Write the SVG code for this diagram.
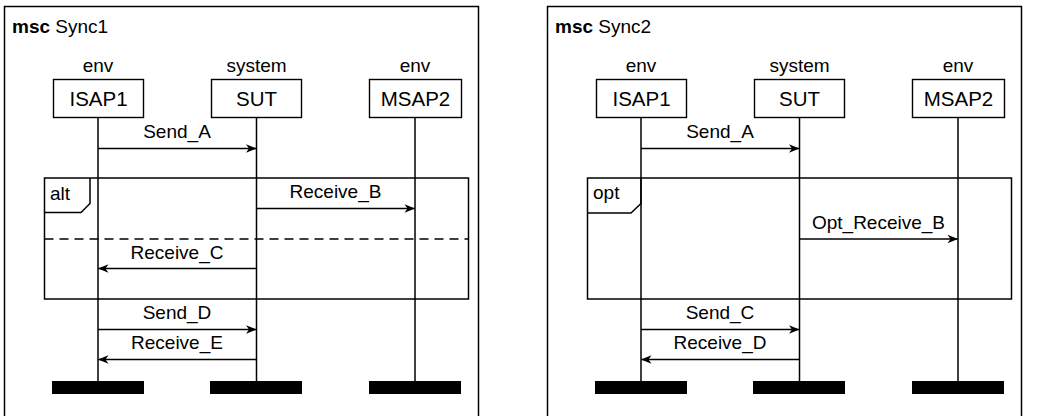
<svg xmlns="http://www.w3.org/2000/svg" width="1039" height="416" viewBox="0 0 1039 416">
  <style>
    text { font-family: "Liberation Sans", Arial, sans-serif; font-size: 19px; fill: #000; }
    .c { text-anchor: middle; }
    .b { font-weight: bold; }
    .n { font-size: 20.5px; }
    .frame { fill: none; stroke: #000; stroke-width: 1.5; }
    .box { fill: #fff; stroke: #000; stroke-width: 1.4; }
    .life { stroke: #000; stroke-width: 1.5; fill: none; }
    .msg { stroke: #000; stroke-width: 1.4; fill: none; marker-end: url(#arrow); }
    .bar { fill: #000; }
    .dash { stroke: #000; stroke-width: 1.4; stroke-dasharray: 9 6; fill: none; }
  </style>
  <defs>
    <marker id="arrow" viewBox="-11 -5 12 10" refX="0" refY="0" markerWidth="12" markerHeight="10" markerUnits="userSpaceOnUse" orient="auto">
      <path d="M0.5,0 L-10,-4.2 L-7,0 L-10,4.2 Z" fill="#000"/>
    </marker>
  </defs>

  <!-- ===== msc Sync1 ===== -->
  <g id="sync1">
    <g id="sync1-frame">
      <rect class="frame" x="4.5" y="6.5" width="474" height="420"/>
      <text x="12" y="33"><tspan class="b">msc</tspan> Sync1</text>
    </g>
    <g id="sync1-isap1">
      <line class="life" x1="98" y1="117" x2="98" y2="382"/>
      <text class="c" x="98" y="72">env</text>
      <rect class="box" x="53.5" y="79.5" width="90" height="38"/>
      <text class="c n" x="98.5" y="106">ISAP1</text>
      <rect class="bar" x="52" y="381" width="92" height="13"/>
    </g>
    <g id="sync1-sut">
      <line class="life" x1="256.5" y1="117" x2="256.5" y2="382"/>
      <text class="c" x="256.5" y="72">system</text>
      <rect class="box" x="211.5" y="79.5" width="90" height="38"/>
      <text class="c n" x="256.5" y="106">SUT</text>
      <rect class="bar" x="210" y="381" width="92" height="13"/>
    </g>
    <g id="sync1-msap2">
      <line class="life" x1="415" y1="117" x2="415" y2="382"/>
      <text class="c" x="415" y="72">env</text>
      <rect class="box" x="369.5" y="79.5" width="92" height="38"/>
      <text class="c n" x="415.5" y="106">MSAP2</text>
      <rect class="bar" x="369" y="381" width="92" height="13"/>
    </g>
    <g id="sync1-alt">
      <rect class="frame" x="44.5" y="178" width="424" height="121"/>
      <path class="frame" d="M44.5,212.5 H81 L90,203.5 V178"/>
      <text x="50" y="200">alt</text>
      <line class="dash" x1="44.5" y1="239" x2="468.5" y2="239"/>
    </g>
    <g id="sync1-connectors">
      <line class="msg" x1="98" y1="148.5" x2="256" y2="148.5"/>
      <text class="c" x="177" y="138">Send_A</text>
      <line class="msg" x1="256.5" y1="208.5" x2="414.5" y2="208.5"/>
      <text class="c" x="335.5" y="198">Receive_B</text>
      <line class="msg" x1="256.5" y1="268.5" x2="98.5" y2="268.5"/>
      <text class="c" x="177" y="259">Receive_C</text>
      <line class="msg" x1="98" y1="329.5" x2="256" y2="329.5"/>
      <text class="c" x="177" y="319">Send_D</text>
      <line class="msg" x1="256.5" y1="359.5" x2="98.5" y2="359.5"/>
      <text class="c" x="177" y="349">Receive_E</text>
    </g>
  </g>

  <!-- ===== msc Sync2 ===== -->
  <g id="sync2" transform="translate(543,0)">
    <g id="sync2-frame">
      <rect class="frame" x="4.5" y="6.5" width="474" height="420"/>
      <text x="12" y="33"><tspan class="b">msc</tspan> Sync2</text>
    </g>
    <g id="sync2-isap1">
      <line class="life" x1="98" y1="117" x2="98" y2="382"/>
      <text class="c" x="98" y="72">env</text>
      <rect class="box" x="53.5" y="79.5" width="90" height="38"/>
      <text class="c n" x="98.5" y="106">ISAP1</text>
      <rect class="bar" x="52" y="381" width="92" height="13"/>
    </g>
    <g id="sync2-sut">
      <line class="life" x1="256.5" y1="117" x2="256.5" y2="382"/>
      <text class="c" x="256.5" y="72">system</text>
      <rect class="box" x="211.5" y="79.5" width="90" height="38"/>
      <text class="c n" x="256.5" y="106">SUT</text>
      <rect class="bar" x="210" y="381" width="92" height="13"/>
    </g>
    <g id="sync2-msap2">
      <line class="life" x1="415" y1="117" x2="415" y2="382"/>
      <text class="c" x="415" y="72">env</text>
      <rect class="box" x="369.5" y="79.5" width="92" height="38"/>
      <text class="c n" x="415.5" y="106">MSAP2</text>
      <rect class="bar" x="369" y="381" width="92" height="13"/>
    </g>
    <g id="sync2-opt">
      <rect class="frame" x="44.5" y="178" width="424" height="121"/>
      <path class="frame" d="M44.5,213 H88 L98,203.5 V178"/>
      <text x="50" y="199">opt</text>
    </g>
    <g id="sync2-connectors">
      <line class="msg" x1="98" y1="148.5" x2="256" y2="148.5"/>
      <text class="c" x="177" y="138">Send_A</text>
      <line class="msg" x1="256.5" y1="239" x2="414.5" y2="239"/>
      <text class="c" x="335.5" y="229">Opt_Receive_B</text>
      <line class="msg" x1="98" y1="329.5" x2="256" y2="329.5"/>
      <text class="c" x="177" y="319">Send_C</text>
      <line class="msg" x1="256.5" y1="359.5" x2="98.5" y2="359.5"/>
      <text class="c" x="177" y="349">Receive_D</text>
    </g>
  </g>
</svg>
